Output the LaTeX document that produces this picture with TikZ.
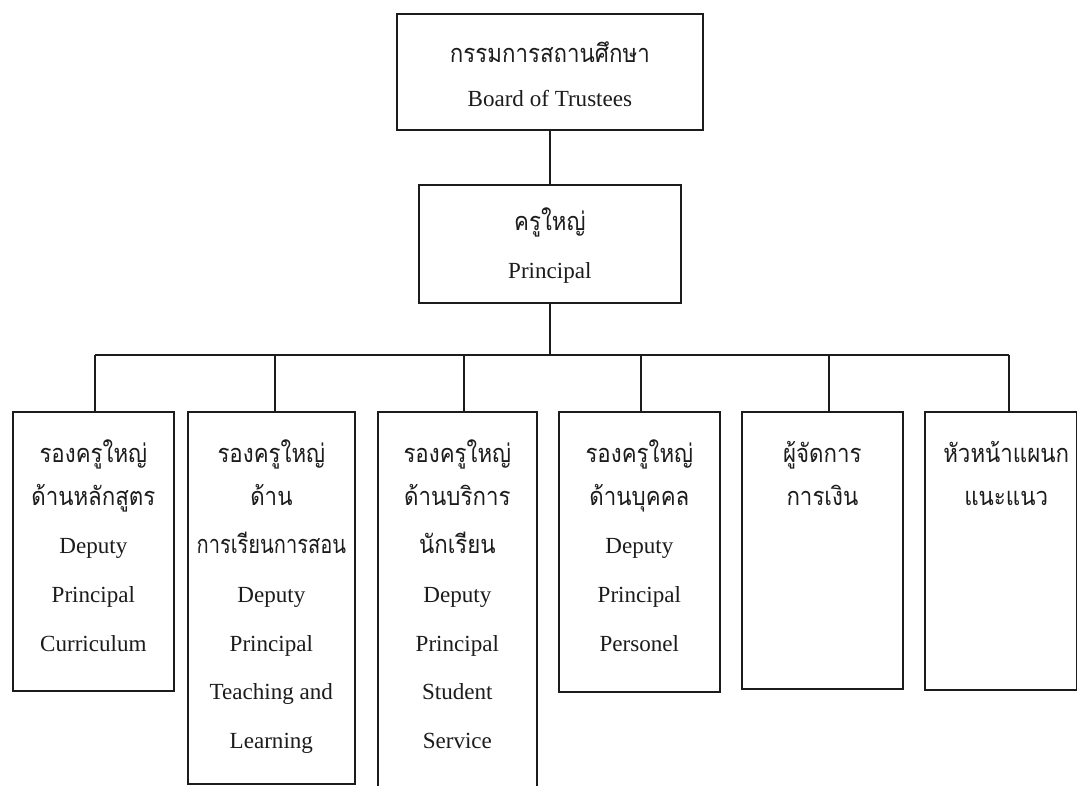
\documentclass[tikz,border=0pt]{standalone}
\usepackage{fontspec}
\setmainfont{Liberation Serif}
\newfontfamily\thaifont[Script=Thai,FakeStretch=0.88]{Loma}
\definecolor{ink}{HTML}{1C1C1C}
\begin{document}
\begin{tikzpicture}[x=0.75pt,y=-0.75pt,
  box/.style={draw=ink, line width=1.3pt, inner sep=0pt, anchor=north west},
  ln/.style={draw=ink, line width=1.3pt},
  en/.style={anchor=base, inner sep=0pt, text=ink, font=\fontsize{17.3}{20}\selectfont},
  th/.style={anchor=base, inner sep=0pt, text=ink, font=\thaifont\fontsize{19}{22}\selectfont}]
\useasboundingbox (0,0) rectangle (1077,785);
\fill[white] (0,0) rectangle (1077,785);
% boxes
\node[box, minimum width=229.5pt, minimum height=87pt] (top) at (396,13) {};
\node[box, minimum width=196.5pt, minimum height=88.5pt] (prin) at (418,184) {};
\node[box, minimum width=120.75pt, minimum height=209.25pt] (b1) at (12,411) {};
\node[box, minimum width=125.25pt, minimum height=279pt] (b2) at (187,411) {};
\node[box, minimum width=119.25pt, minimum height=300pt] (b3) at (377,411) {};
\node[box, minimum width=120.75pt, minimum height=210pt] (b4) at (558,411) {};
\node[box, minimum width=120.75pt, minimum height=207.75pt] (b5) at (741,411) {};
\node[box, minimum width=114pt, minimum height=208.5pt] (b6) at (924,411) {};
% texts
\node[th] (top1) at (top.north |- 0,62) {กรรมการสถานศึกษา};
\node[en] (top2) at (top.north |- 0,106) {Board of Trustees};
\node[th] (prin1) at (prin.north |- 0,230) {ครูใหญ่};
\node[en] (prin2) at (prin.north |- 0,278) {Principal};
%
\node[th] (b1a) at (b1.north |- 0,462) {รองครูใหญ่};
\node[th] (b1b) at (b1.north |- 0,505) {ด้านหลักสูตร};
\node[en] (b1c) at (b1.north |- 0,553) {Deputy};
\node[en] (b1d) at (b1.north |- 0,602) {Principal};
\node[en] (b1e) at (b1.north |- 0,651) {Curriculum};
%
\node[th] (b2a) at (b2.north |- 0,462) {รองครูใหญ่};
\node[th] (b2b) at (b2.north |- 0,505) {ด้าน};
\node[th, xscale=0.9, transform shape] (b2c) at (b2.north |- 0,553) {การเรียนการสอน};
\node[en] (b2d) at (b2.north |- 0,602) {Deputy};
\node[en] (b2e) at (b2.north |- 0,651) {Principal};
\node[en] (b2f) at (b2.north |- 0,699) {Teaching and};
\node[en] (b2g) at (b2.north |- 0,748) {Learning};
%
\node[th] (b3a) at (b3.north |- 0,462) {รองครูใหญ่};
\node[th] (b3b) at (b3.north |- 0,505) {ด้านบริการ};
\node[th] (b3c) at (b3.north |- 0,553) {นักเรียน};
\node[en] (b3d) at (b3.north |- 0,602) {Deputy};
\node[en] (b3e) at (b3.north |- 0,651) {Principal};
\node[en] (b3f) at (b3.north |- 0,699) {Student};
\node[en] (b3g) at (b3.north |- 0,748) {Service};
%
\node[th] (b4a) at (b4.north |- 0,462) {รองครูใหญ่};
\node[th] (b4b) at (b4.north |- 0,505) {ด้านบุคคล};
\node[en] (b4c) at (b4.north |- 0,553) {Deputy};
\node[en] (b4d) at (b4.north |- 0,602) {Principal};
\node[en] (b4e) at (b4.north |- 0,651) {Personel};
%
\node[th] (b5a) at (b5.north |- 0,462) {ผู้จัดการ};
\node[th] (b5b) at (b5.north |- 0,505) {การเงิน};
%
\node[th] (b6a) at ([xshift=4pt]b6.north |- 0,462) {หัวหน้าแผนก};
\node[th] (b6b) at ([xshift=4pt]b6.north |- 0,505) {แนะแนว};
% connectors
\draw[ln] (top.south) -- (prin.north);
\coordinate (bus) at (prin.south |- 0,355);
\draw[ln] (prin.south) -- (bus);
\coordinate (c1) at (95,355);
\coordinate (c2) at (275,355);
\coordinate (c3) at (464,355);
\coordinate (c4) at (641,355);
\coordinate (c5) at (829,355);
\coordinate (c6) at (1009,355);
\draw[ln] (c1) -- (c6);
\draw[ln] (c1) -- (c1 |- b1.north);
\draw[ln] (c2) -- (c2 |- b2.north);
\draw[ln] (c3) -- (c3 |- b3.north);
\draw[ln] (c4) -- (c4 |- b4.north);
\draw[ln] (c5) -- (c5 |- b5.north);
\draw[ln] (c6) -- (c6 |- b6.north);
\end{tikzpicture}
\end{document}
